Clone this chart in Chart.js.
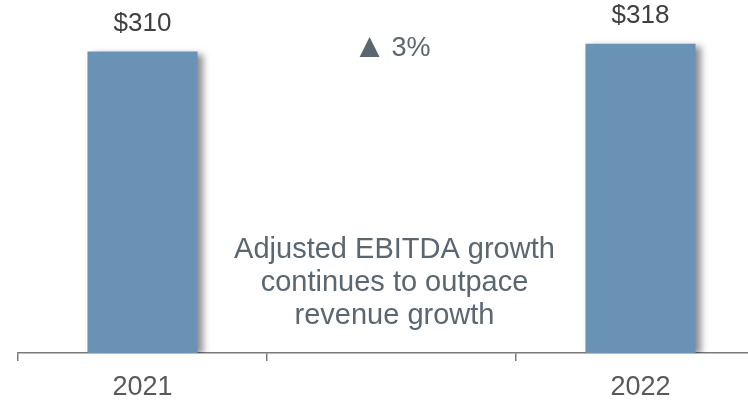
<!DOCTYPE html>
<html>
<head>
<meta charset="utf-8">
<script src="https://cdn.jsdelivr.net/npm/chart.js@4"></script>
<style>
  html, body { margin: 0; padding: 0; background: #fff; overflow: hidden; }
  #wrap { width: 748px; height: 402px; overflow: hidden; }
</style>
</head>
<body>
<div id="wrap"><canvas id="ebitda" width="783" height="402"></canvas></div>
<script>
// Adjusted EBITDA ($M) by year; the middle slot holds the growth callout
const years = ["2021", "", "2022"];
const ebitda = [310, null, 318];
const growthPct = "3%";
const noteLines = ["Adjusted EBITDA growth", "continues to outpace", "revenue growth"];

const FONT = "'Liberation Sans', Arial, sans-serif";

// soft grey shadow on the right edge of each bar
const barShadow = {
    id: "barShadow",
    beforeDatasetDraw(chart) {
        const ctx = chart.ctx;
        ctx.save();
        ctx.shadowColor = "rgba(0,0,0,0.45)";
        ctx.shadowBlur = 7;
        ctx.shadowOffsetX = 5;
        ctx.shadowOffsetY = 2;
    },
    afterDatasetDraw(chart) {
        chart.ctx.restore();
    }
};

// value labels above bars plus the text in the empty middle slot
const labelsPlugin = {
    id: "labelsPlugin",
    afterDatasetsDraw(chart) {
        const ctx = chart.ctx;
        const meta = chart.getDatasetMeta(0);
        ctx.save();
        ctx.textAlign = "center";
        ctx.textBaseline = "middle";
        ctx.font = "26px " + FONT;
        ctx.fillStyle = "#404040";
        meta.data.forEach((bar, i) => {
            const v = ebitda[i];
            if (v == null) return;
            ctx.fillText("$" + v, bar.x, bar.y - 28);
        });

        const midX = chart.scales.x.getPixelForValue(1) + 3;
        ctx.fillStyle = "#5a6670";
        // up arrow + growth figure
        ctx.font = "34px " + FONT;
        ctx.fillText("\u25B2", midX - 25, 48);
        ctx.textAlign = "left";
        ctx.font = "27px " + FONT;
        ctx.fillText(growthPct, midX - 3, 49);

        ctx.textAlign = "center";
        ctx.font = "29px " + FONT;
        noteLines.forEach((line, i) => {
            ctx.fillText(line, midX, 250 + i * 33);
        });
        ctx.restore();
    }
};

new Chart(document.getElementById("ebitda"), {
    type: "bar",
    data: {
        labels: years,
        datasets: [{
            data: ebitda,
            backgroundColor: "#6a92b4",
            borderWidth: 0,
            categoryPercentage: 1,
            barPercentage: 0.442
        }]
    },
    options: {
        responsive: false,
        animation: false,
        events: [],
        layout: { padding: { left: 18, right: 18, top: 0, bottom: 0 } },
        plugins: {
            legend: { display: false },
            tooltip: { enabled: false }
        },
        scales: {
            x: {
                offset: true,
                afterFit(scale) { scale.height = 49; },
                grid: {
                    offset: true,
                    drawOnChartArea: false,
                    drawTicks: true,
                    tickLength: 8,
                    color: "#7a7a7a",
                    lineWidth: 1.5
                },
                border: { display: true, color: "#7a7a7a", width: 1.5 },
                ticks: {
                    color: "#595959",
                    font: { family: FONT, size: 27 },
                    padding: 10,
                    maxRotation: 0
                }
            },
            y: {
                display: false,
                min: 0,
                max: 363
            }
        }
    },
    plugins: [barShadow, labelsPlugin]
});
</script>
</body>
</html>
